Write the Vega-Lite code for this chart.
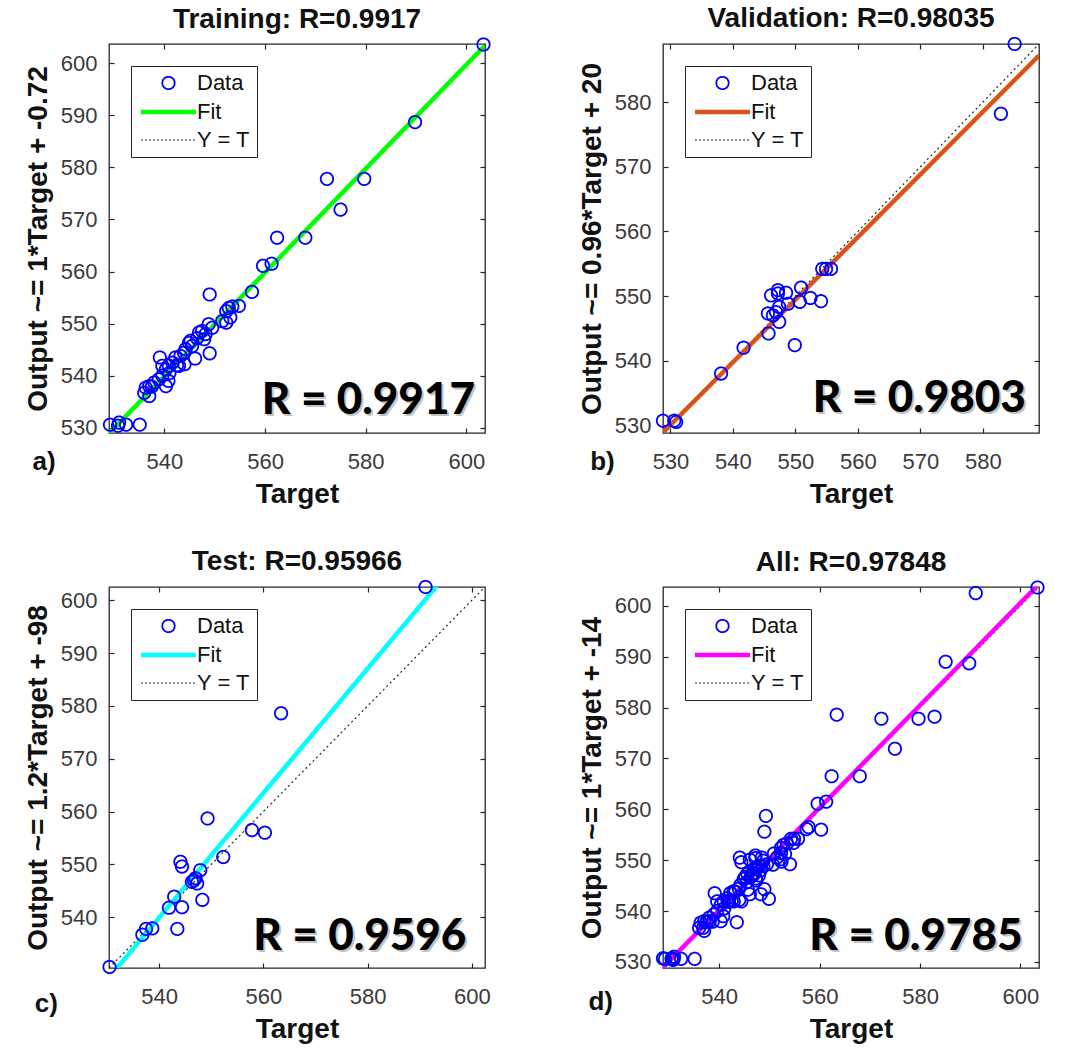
{
  "$schema": "https://vega.github.io/schema/vega-lite/v6.json",
  "background": "white",
  "padding": {"left": 23, "top": 4, "right": 5, "bottom": 5},
  "datasets": {
    "points": [
      {"set": "Training", "t": 603.4, "o": 603.6}, {"set": "Training", "t": 589.8, "o": 588.7},
      {"set": "Training", "t": 572.3, "o": 577.8}, {"set": "Training", "t": 579.7, "o": 577.8},
      {"set": "Training", "t": 575.0, "o": 571.9}, {"set": "Training", "t": 562.4, "o": 566.5},
      {"set": "Training", "t": 568.0, "o": 566.5}, {"set": "Training", "t": 559.6, "o": 561.1},
      {"set": "Training", "t": 561.3, "o": 561.5}, {"set": "Training", "t": 557.4, "o": 556.1},
      {"set": "Training", "t": 549.0, "o": 555.6}, {"set": "Training", "t": 552.3, "o": 552.4},
      {"set": "Training", "t": 552.8, "o": 553.0}, {"set": "Training", "t": 553.5, "o": 553.3},
      {"set": "Training", "t": 554.8, "o": 553.4}, {"set": "Training", "t": 552.3, "o": 550.2},
      {"set": "Training", "t": 553.1, "o": 551.2}, {"set": "Training", "t": 548.8, "o": 549.9},
      {"set": "Training", "t": 549.5, "o": 549.2}, {"set": "Training", "t": 547.5, "o": 548.6},
      {"set": "Training", "t": 546.9, "o": 548.3}, {"set": "Training", "t": 547.9, "o": 547.0},
      {"set": "Training", "t": 549.0, "o": 544.3}, {"set": "Training", "t": 546.1, "o": 543.3},
      {"set": "Training", "t": 545.2, "o": 546.7}, {"set": "Training", "t": 544.9, "o": 546.3},
      {"set": "Training", "t": 545.5, "o": 545.7}, {"set": "Training", "t": 544.2, "o": 545.1},
      {"set": "Training", "t": 543.9, "o": 544.4}, {"set": "Training", "t": 543.2, "o": 543.8},
      {"set": "Training", "t": 542.2, "o": 543.5}, {"set": "Training", "t": 541.6, "o": 542.5},
      {"set": "Training", "t": 540.9, "o": 541.9}, {"set": "Training", "t": 540.3, "o": 541.2},
      {"set": "Training", "t": 539.6, "o": 541.9}, {"set": "Training", "t": 542.9, "o": 541.9},
      {"set": "Training", "t": 539.1, "o": 543.5}, {"set": "Training", "t": 539.6, "o": 540.0},
      {"set": "Training", "t": 538.9, "o": 539.3}, {"set": "Training", "t": 540.3, "o": 538.0},
      {"set": "Training", "t": 538.0, "o": 538.7}, {"set": "Training", "t": 537.0, "o": 538.0},
      {"set": "Training", "t": 536.3, "o": 537.7}, {"set": "Training", "t": 537.0, "o": 536.1},
      {"set": "Training", "t": 536.0, "o": 536.7}, {"set": "Training", "t": 529.2, "o": 530.6},
      {"set": "Training", "t": 530.8, "o": 530.4}, {"set": "Training", "t": 532.4, "o": 530.6},
      {"set": "Training", "t": 535.1, "o": 530.6}, {"set": "Training", "t": 531.0, "o": 531.0},
      {"set": "Training", "t": 541.0, "o": 540.5}, {"set": "Training", "t": 542.5, "o": 542.0},
      {"set": "Training", "t": 544.0, "o": 542.2}, {"set": "Training", "t": 546.5, "o": 547.2},
      {"set": "Training", "t": 548.2, "o": 548.0}, {"set": "Training", "t": 551.5, "o": 550.5},
      {"set": "Training", "t": 537.5, "o": 537.9}, {"set": "Training", "t": 540.8, "o": 539.0},
      {"set": "Validation", "t": 585.1, "o": 589.0}, {"set": "Validation", "t": 582.9, "o": 578.2},
      {"set": "Validation", "t": 528.8, "o": 530.7}, {"set": "Validation", "t": 530.6, "o": 530.7},
      {"set": "Validation", "t": 530.9, "o": 530.5}, {"set": "Validation", "t": 538.1, "o": 538.0},
      {"set": "Validation", "t": 541.7, "o": 542.0}, {"set": "Validation", "t": 545.7, "o": 544.2},
      {"set": "Validation", "t": 549.9, "o": 542.4}, {"set": "Validation", "t": 545.6, "o": 547.3},
      {"set": "Validation", "t": 546.4, "o": 547.0}, {"set": "Validation", "t": 546.1, "o": 550.1},
      {"set": "Validation", "t": 547.2, "o": 550.4}, {"set": "Validation", "t": 548.5, "o": 550.5},
      {"set": "Validation", "t": 547.2, "o": 550.9}, {"set": "Validation", "t": 547.4, "o": 546.0},
      {"set": "Validation", "t": 547.4, "o": 548.3}, {"set": "Validation", "t": 548.8, "o": 548.8},
      {"set": "Validation", "t": 546.9, "o": 547.5}, {"set": "Validation", "t": 550.9, "o": 551.3},
      {"set": "Validation", "t": 550.7, "o": 549.1}, {"set": "Validation", "t": 552.4, "o": 549.7},
      {"set": "Validation", "t": 554.1, "o": 549.2}, {"set": "Validation", "t": 554.3, "o": 554.2},
      {"set": "Validation", "t": 554.9, "o": 554.2}, {"set": "Validation", "t": 555.7, "o": 554.2},
      {"set": "Test", "t": 591.1, "o": 602.5}, {"set": "Test", "t": 563.4, "o": 578.6},
      {"set": "Test", "t": 549.3, "o": 558.7}, {"set": "Test", "t": 557.8, "o": 556.5},
      {"set": "Test", "t": 560.3, "o": 556.0}, {"set": "Test", "t": 552.3, "o": 551.4},
      {"set": "Test", "t": 544.1, "o": 550.5}, {"set": "Test", "t": 544.4, "o": 549.6},
      {"set": "Test", "t": 547.9, "o": 548.9}, {"set": "Test", "t": 547.0, "o": 547.4},
      {"set": "Test", "t": 546.7, "o": 547.0}, {"set": "Test", "t": 547.3, "o": 546.4},
      {"set": "Test", "t": 546.3, "o": 546.7}, {"set": "Test", "t": 548.3, "o": 543.3},
      {"set": "Test", "t": 542.9, "o": 543.9}, {"set": "Test", "t": 541.9, "o": 541.8},
      {"set": "Test", "t": 544.4, "o": 541.9}, {"set": "Test", "t": 543.5, "o": 537.8},
      {"set": "Test", "t": 536.8, "o": 536.7}, {"set": "Test", "t": 537.5, "o": 537.8},
      {"set": "Test", "t": 538.7, "o": 537.9}, {"set": "Test", "t": 530.5, "o": 530.6}
    ],
    "lines": [
      {"panel": "Training", "kind": "Fit", "t": 529.0, "o": 528.9}, {"panel": "Training", "kind": "Fit", "t": 603.7, "o": 603.4},
      {"panel": "Training", "kind": "YT", "t": 529.0, "o": 529.0}, {"panel": "Training", "kind": "YT", "t": 603.7, "o": 603.7},
      {"panel": "Validation", "kind": "Fit", "t": 528.8, "o": 528.9}, {"panel": "Validation", "kind": "Fit", "t": 589.0, "o": 587.2},
      {"panel": "Validation", "kind": "YT", "t": 528.8, "o": 528.8}, {"panel": "Validation", "kind": "YT", "t": 589.0, "o": 589.0},
      {"panel": "Test", "kind": "Fit", "t": 530.4, "o": 528.6}, {"panel": "Test", "kind": "Fit", "t": 602.5, "o": 613.6},
      {"panel": "Test", "kind": "YT", "t": 530.4, "o": 530.4}, {"panel": "Test", "kind": "YT", "t": 602.5, "o": 602.5},
      {"panel": "All", "kind": "Fit", "t": 528.8, "o": 528.9}, {"panel": "All", "kind": "Fit", "t": 603.7, "o": 604.3},
      {"panel": "All", "kind": "YT", "t": 528.8, "o": 528.8}, {"panel": "All", "kind": "YT", "t": 603.7, "o": 603.7}
    ]
  },
  "config": {
    "font": "Liberation Sans",
    "view": {"stroke": "#262626", "strokeWidth": 1.3, "fill": "white"},
    "axis": {
      "grid": false, "domain": false, "tickColor": "#262626", "tickSize": -5, "tickWidth": 1.2,
      "labelFont": "Liberation Sans", "labelFontSize": 22, "labelColor": "#3a3a3a",
      "titleFont": "Liberation Sans", "titleFontSize": 28, "titleFontWeight": "bold", "titleColor": "#111111"
    },
    "axisX": {"labelPadding": 23, "titlePadding": 8},
    "axisY": {"labelPadding": 17, "titlePadding": 8},
    "title": {"font": "Liberation Sans", "fontSize": 28, "fontWeight": "bold", "color": "#111111", "offset": 1},
    "legend": {
      "orient": "top-left", "offset": 22, "fillColor": "white", "strokeColor": "#262626",
      "padding": 6, "symbolSize": 400, "symbolOffset": 19, "labelOffset": 16, "rowPadding": 5.5,
      "labelFont": "Liberation Sans", "labelFontSize": 22, "labelColor": "#111111", "title": null,
      "symbolFillColor": "transparent", "symbolOpacity": 1
    }
  },
  "columns": 2,
  "spacing": {"row": 154, "column": 178},
  "bounds": "flush",
  "resolve": {
    "scale": {"color": "independent", "shape": "independent", "strokeWidth": "independent", "strokeDash": "independent"},
    "legend": {"color": "independent", "shape": "independent", "strokeWidth": "independent", "strokeDash": "independent"}
  },
  "concat": [
    {
      "width": 376, "height": 389,
      "title": "Training: R=0.9917",
      "resolve": {"axis": {"x": "independent", "y": "independent"}},
      "layer": [
        {
          "data": {"name": "lines"},
          "transform": [{"filter": "datum.panel === 'Training' && datum.kind === 'YT'"}],
          "mark": {"type": "line", "color": "#262626", "strokeWidth": 1.2, "strokeDash": [2, 3], "clip": true},
          "encoding": {
            "x": {"field": "t", "type": "quantitative", "scale": {"domain": [529.0, 603.7], "nice": false, "zero": false},
                  "axis": {"orient": "top", "values": [540, 560, 580, 600], "labels": false, "title": null}},
            "y": {"field": "o", "type": "quantitative", "scale": {"domain": [529.0, 603.7], "nice": false, "zero": false},
                  "axis": {"orient": "right", "values": [530, 540, 550, 560, 570, 580, 590, 600], "labels": false, "title": null}}
          }
        },
        {
          "data": {"name": "lines"},
          "transform": [{"filter": "datum.panel === 'Training' && datum.kind === 'Fit'"}],
          "mark": {"type": "line", "color": "#00ff00", "strokeWidth": 4.5, "clip": true},
          "encoding": {
            "x": {"field": "t", "type": "quantitative", "axis": null},
            "y": {"field": "o", "type": "quantitative", "axis": null}
          }
        },
        {
          "data": {"name": "points"},
          "transform": [{"filter": "datum.set === 'Training'"}],
          "mark": {"type": "point", "filled": false, "size": 400, "opacity": 1},
          "encoding": {
            "x": {"field": "t", "type": "quantitative", "title": "Target",
                  "axis": {"orient": "bottom", "values": [540, 560, 580, 600]}},
            "y": {"field": "o", "type": "quantitative", "title": "Output ~= 1*Target + -0.72",
                  "axis": {"orient": "left", "values": [530, 540, 550, 560, 570, 580, 590, 600]}},
            "color": {"datum": "Data", "type": "nominal", "scale": {"domain": ["Data", "Fit", "Y = T"], "range": ["#0000ff", "#00ff00", "#262626"]}},
            "shape": {"datum": "Data", "type": "nominal", "scale": {"domain": ["Data", "Fit", "Y = T"], "range": ["M0.62,0A0.62,0.62,0,1,1,-0.62,0A0.62,0.62,0,1,1,0.62,0Z", "M-2.75,0H2.75", "M-2.75,0H2.75"]}},
            "strokeWidth": {"datum": "Data", "type": "nominal", "scale": {"type": "ordinal", "domain": ["Data", "Fit", "Y = T"], "range": [1.8, 4.5, 1.2]}},
            "strokeDash": {"datum": "Data", "type": "nominal", "scale": {"domain": ["Data", "Fit", "Y = T"], "range": [[1, 0], [1, 0], [2, 2]]}}
          }
        },
        {
          "data": {"values": [{}]},
          "mark": {"type": "text", "font": "Lato", "fontWeight": 900, "fontSize": 44, "align": "right", "baseline": "alphabetic", "color": "#7a7a7a", "opacity": 0.45, "dx": 2, "dy": 2},
          "encoding": {"x": {"datum": 601.7, "type": "quantitative", "axis": null}, "y": {"datum": 532.7, "type": "quantitative", "axis": null}, "text": {"value": "R = 0.9917"}}
        },
        {
          "data": {"values": [{}]},
          "mark": {"type": "text", "font": "Lato", "fontWeight": 900, "fontSize": 44, "align": "right", "baseline": "alphabetic", "color": "#000000"},
          "encoding": {"x": {"datum": 601.7, "type": "quantitative", "axis": null}, "y": {"datum": 532.7, "type": "quantitative", "axis": null}, "text": {"value": "R = 0.9917"}}
        },
        {
          "data": {"values": [{}]},
          "mark": {"type": "text", "font": "Liberation Sans", "fontWeight": "bold", "fontSize": 26, "align": "center", "baseline": "middle", "color": "#111111"},
          "encoding": {"x": {"datum": 516.1, "type": "quantitative", "axis": null}, "y": {"datum": 523.4, "type": "quantitative", "axis": null}, "text": {"value": "a)"}}
        }
      ]
    },
    {
      "width": 376, "height": 389,
      "title": "Validation: R=0.98035",
      "resolve": {"axis": {"x": "independent", "y": "independent"}},
      "layer": [
        {
          "data": {"name": "lines"},
          "transform": [{"filter": "datum.panel === 'Validation' && datum.kind === 'YT'"}],
          "mark": {"type": "line", "color": "#262626", "strokeWidth": 1.2, "strokeDash": [2, 3], "clip": true},
          "encoding": {
            "x": {"field": "t", "type": "quantitative", "scale": {"domain": [528.8, 589.0], "nice": false, "zero": false},
                  "axis": {"orient": "top", "values": [530, 540, 550, 560, 570, 580], "labels": false, "title": null}},
            "y": {"field": "o", "type": "quantitative", "scale": {"domain": [528.8, 589.0], "nice": false, "zero": false},
                  "axis": {"orient": "right", "values": [530, 540, 550, 560, 570, 580], "labels": false, "title": null}}
          }
        },
        {
          "data": {"name": "lines"},
          "transform": [{"filter": "datum.panel === 'Validation' && datum.kind === 'Fit'"}],
          "mark": {"type": "line", "color": "#d95319", "strokeWidth": 4.5, "clip": true},
          "encoding": {
            "x": {"field": "t", "type": "quantitative", "axis": null},
            "y": {"field": "o", "type": "quantitative", "axis": null}
          }
        },
        {
          "data": {"name": "points"},
          "transform": [{"filter": "datum.set === 'Validation'"}],
          "mark": {"type": "point", "filled": false, "size": 400, "opacity": 1},
          "encoding": {
            "x": {"field": "t", "type": "quantitative", "title": "Target",
                  "axis": {"orient": "bottom", "values": [530, 540, 550, 560, 570, 580]}},
            "y": {"field": "o", "type": "quantitative", "title": "Output ~= 0.96*Target + 20",
                  "axis": {"orient": "left", "values": [530, 540, 550, 560, 570, 580]}},
            "color": {"datum": "Data", "type": "nominal", "scale": {"domain": ["Data", "Fit", "Y = T"], "range": ["#0000ff", "#d95319", "#262626"]}},
            "shape": {"datum": "Data", "type": "nominal", "scale": {"domain": ["Data", "Fit", "Y = T"], "range": ["M0.62,0A0.62,0.62,0,1,1,-0.62,0A0.62,0.62,0,1,1,0.62,0Z", "M-2.75,0H2.75", "M-2.75,0H2.75"]}},
            "strokeWidth": {"datum": "Data", "type": "nominal", "scale": {"type": "ordinal", "domain": ["Data", "Fit", "Y = T"], "range": [1.8, 4.5, 1.2]}},
            "strokeDash": {"datum": "Data", "type": "nominal", "scale": {"domain": ["Data", "Fit", "Y = T"], "range": [[1, 0], [1, 0], [2, 2]]}}
          }
        },
        {
          "data": {"values": [{}]},
          "mark": {"type": "text", "font": "Lato", "fontWeight": 900, "fontSize": 44, "align": "right", "baseline": "alphabetic", "color": "#7a7a7a", "opacity": 0.45, "dx": 2, "dy": 2},
          "encoding": {"x": {"datum": 586.9, "type": "quantitative", "axis": null}, "y": {"datum": 532.0, "type": "quantitative", "axis": null}, "text": {"value": "R = 0.9803"}}
        },
        {
          "data": {"values": [{}]},
          "mark": {"type": "text", "font": "Lato", "fontWeight": 900, "fontSize": 44, "align": "right", "baseline": "alphabetic", "color": "#000000"},
          "encoding": {"x": {"datum": 586.9, "type": "quantitative", "axis": null}, "y": {"datum": 532.0, "type": "quantitative", "axis": null}, "text": {"value": "R = 0.9803"}}
        },
        {
          "data": {"values": [{}]},
          "mark": {"type": "text", "font": "Liberation Sans", "fontWeight": "bold", "fontSize": 26, "align": "center", "baseline": "middle", "color": "#111111"},
          "encoding": {"x": {"datum": 519.1, "type": "quantitative", "axis": null}, "y": {"datum": 524.3, "type": "quantitative", "axis": null}, "text": {"value": "b)"}}
        }
      ]
    },
    {
      "width": 376, "height": 381,
      "title": "Test: R=0.95966",
      "resolve": {"axis": {"x": "independent", "y": "independent"}},
      "layer": [
        {
          "data": {"name": "lines"},
          "transform": [{"filter": "datum.panel === 'Test' && datum.kind === 'YT'"}],
          "mark": {"type": "line", "color": "#262626", "strokeWidth": 1.2, "strokeDash": [2, 3], "clip": true},
          "encoding": {
            "x": {"field": "t", "type": "quantitative", "scale": {"domain": [530.4, 602.5], "nice": false, "zero": false},
                  "axis": {"orient": "top", "values": [540, 560, 580, 600], "labels": false, "title": null}},
            "y": {"field": "o", "type": "quantitative", "scale": {"domain": [530.4, 602.5], "nice": false, "zero": false},
                  "axis": {"orient": "right", "values": [540, 550, 560, 570, 580, 590, 600], "labels": false, "title": null}}
          }
        },
        {
          "data": {"name": "lines"},
          "transform": [{"filter": "datum.panel === 'Test' && datum.kind === 'Fit'"}],
          "mark": {"type": "line", "color": "#00ffff", "strokeWidth": 4.5, "clip": true},
          "encoding": {
            "x": {"field": "t", "type": "quantitative", "axis": null},
            "y": {"field": "o", "type": "quantitative", "axis": null}
          }
        },
        {
          "data": {"name": "points"},
          "transform": [{"filter": "datum.set === 'Test'"}],
          "mark": {"type": "point", "filled": false, "size": 400, "opacity": 1},
          "encoding": {
            "x": {"field": "t", "type": "quantitative", "title": "Target",
                  "axis": {"orient": "bottom", "values": [540, 560, 580, 600]}},
            "y": {"field": "o", "type": "quantitative", "title": "Output ~= 1.2*Target + -98",
                  "axis": {"orient": "left", "values": [540, 550, 560, 570, 580, 590, 600]}},
            "color": {"datum": "Data", "type": "nominal", "scale": {"domain": ["Data", "Fit", "Y = T"], "range": ["#0000ff", "#00ffff", "#262626"]}},
            "shape": {"datum": "Data", "type": "nominal", "scale": {"domain": ["Data", "Fit", "Y = T"], "range": ["M0.62,0A0.62,0.62,0,1,1,-0.62,0A0.62,0.62,0,1,1,0.62,0Z", "M-2.75,0H2.75", "M-2.75,0H2.75"]}},
            "strokeWidth": {"datum": "Data", "type": "nominal", "scale": {"type": "ordinal", "domain": ["Data", "Fit", "Y = T"], "range": [1.8, 4.5, 1.2]}},
            "strokeDash": {"datum": "Data", "type": "nominal", "scale": {"domain": ["Data", "Fit", "Y = T"], "range": [[1, 0], [1, 0], [2, 2]]}}
          }
        },
        {
          "data": {"values": [{}]},
          "mark": {"type": "text", "font": "Lato", "fontWeight": 900, "fontSize": 44, "align": "right", "baseline": "alphabetic", "color": "#7a7a7a", "opacity": 0.45, "dx": 2, "dy": 2},
          "encoding": {"x": {"datum": 598.9, "type": "quantitative", "axis": null}, "y": {"datum": 533.8, "type": "quantitative", "axis": null}, "text": {"value": "R = 0.9596"}}
        },
        {
          "data": {"values": [{}]},
          "mark": {"type": "text", "font": "Lato", "fontWeight": 900, "fontSize": 44, "align": "right", "baseline": "alphabetic", "color": "#000000"},
          "encoding": {"x": {"datum": 598.9, "type": "quantitative", "axis": null}, "y": {"datum": 533.8, "type": "quantitative", "axis": null}, "text": {"value": "R = 0.9596"}}
        },
        {
          "data": {"values": [{}]},
          "mark": {"type": "text", "font": "Liberation Sans", "fontWeight": "bold", "fontSize": 26, "align": "center", "baseline": "middle", "color": "#111111"},
          "encoding": {"x": {"datum": 518.4, "type": "quantitative", "axis": null}, "y": {"datum": 523.6, "type": "quantitative", "axis": null}, "text": {"value": "c)"}}
        }
      ]
    },
    {
      "width": 376, "height": 381,
      "title": "All: R=0.97848",
      "resolve": {"axis": {"x": "independent", "y": "independent"}},
      "layer": [
        {
          "data": {"name": "lines"},
          "transform": [{"filter": "datum.panel === 'All' && datum.kind === 'YT'"}],
          "mark": {"type": "line", "color": "#262626", "strokeWidth": 1.2, "strokeDash": [2, 3], "clip": true},
          "encoding": {
            "x": {"field": "t", "type": "quantitative", "scale": {"domain": [528.8, 603.7], "nice": false, "zero": false},
                  "axis": {"orient": "top", "values": [540, 560, 580, 600], "labels": false, "title": null}},
            "y": {"field": "o", "type": "quantitative", "scale": {"domain": [528.8, 603.7], "nice": false, "zero": false},
                  "axis": {"orient": "right", "values": [530, 540, 550, 560, 570, 580, 590, 600], "labels": false, "title": null}}
          }
        },
        {
          "data": {"name": "lines"},
          "transform": [{"filter": "datum.panel === 'All' && datum.kind === 'Fit'"}],
          "mark": {"type": "line", "color": "#ff00ff", "strokeWidth": 4.5, "clip": true},
          "encoding": {
            "x": {"field": "t", "type": "quantitative", "axis": null},
            "y": {"field": "o", "type": "quantitative", "axis": null}
          }
        },
        {
          "data": {"name": "points"},
          "mark": {"type": "point", "filled": false, "size": 400, "opacity": 1},
          "encoding": {
            "x": {"field": "t", "type": "quantitative", "title": "Target",
                  "axis": {"orient": "bottom", "values": [540, 560, 580, 600]}},
            "y": {"field": "o", "type": "quantitative", "title": "Output ~= 1*Target + -14",
                  "axis": {"orient": "left", "values": [530, 540, 550, 560, 570, 580, 590, 600]}},
            "color": {"datum": "Data", "type": "nominal", "scale": {"domain": ["Data", "Fit", "Y = T"], "range": ["#0000ff", "#ff00ff", "#262626"]}},
            "shape": {"datum": "Data", "type": "nominal", "scale": {"domain": ["Data", "Fit", "Y = T"], "range": ["M0.62,0A0.62,0.62,0,1,1,-0.62,0A0.62,0.62,0,1,1,0.62,0Z", "M-2.75,0H2.75", "M-2.75,0H2.75"]}},
            "strokeWidth": {"datum": "Data", "type": "nominal", "scale": {"type": "ordinal", "domain": ["Data", "Fit", "Y = T"], "range": [1.8, 4.5, 1.2]}},
            "strokeDash": {"datum": "Data", "type": "nominal", "scale": {"domain": ["Data", "Fit", "Y = T"], "range": [[1, 0], [1, 0], [2, 2]]}}
          }
        },
        {
          "data": {"values": [{}]},
          "mark": {"type": "text", "font": "Lato", "fontWeight": 900, "fontSize": 44, "align": "right", "baseline": "alphabetic", "color": "#7a7a7a", "opacity": 0.45, "dx": 2, "dy": 2},
          "encoding": {"x": {"datum": 600.4, "type": "quantitative", "axis": null}, "y": {"datum": 532.3, "type": "quantitative", "axis": null}, "text": {"value": "R = 0.9785"}}
        },
        {
          "data": {"values": [{}]},
          "mark": {"type": "text", "font": "Lato", "fontWeight": 900, "fontSize": 44, "align": "right", "baseline": "alphabetic", "color": "#000000"},
          "encoding": {"x": {"datum": 600.4, "type": "quantitative", "axis": null}, "y": {"datum": 532.3, "type": "quantitative", "axis": null}, "text": {"value": "R = 0.9785"}}
        },
        {
          "data": {"values": [{}]},
          "mark": {"type": "text", "font": "Liberation Sans", "fontWeight": "bold", "fontSize": 26, "align": "center", "baseline": "middle", "color": "#111111"},
          "encoding": {"x": {"datum": 516.4, "type": "quantitative", "axis": null}, "y": {"datum": 522.1, "type": "quantitative", "axis": null}, "text": {"value": "d)"}}
        }
      ]
    }
  ]
}
